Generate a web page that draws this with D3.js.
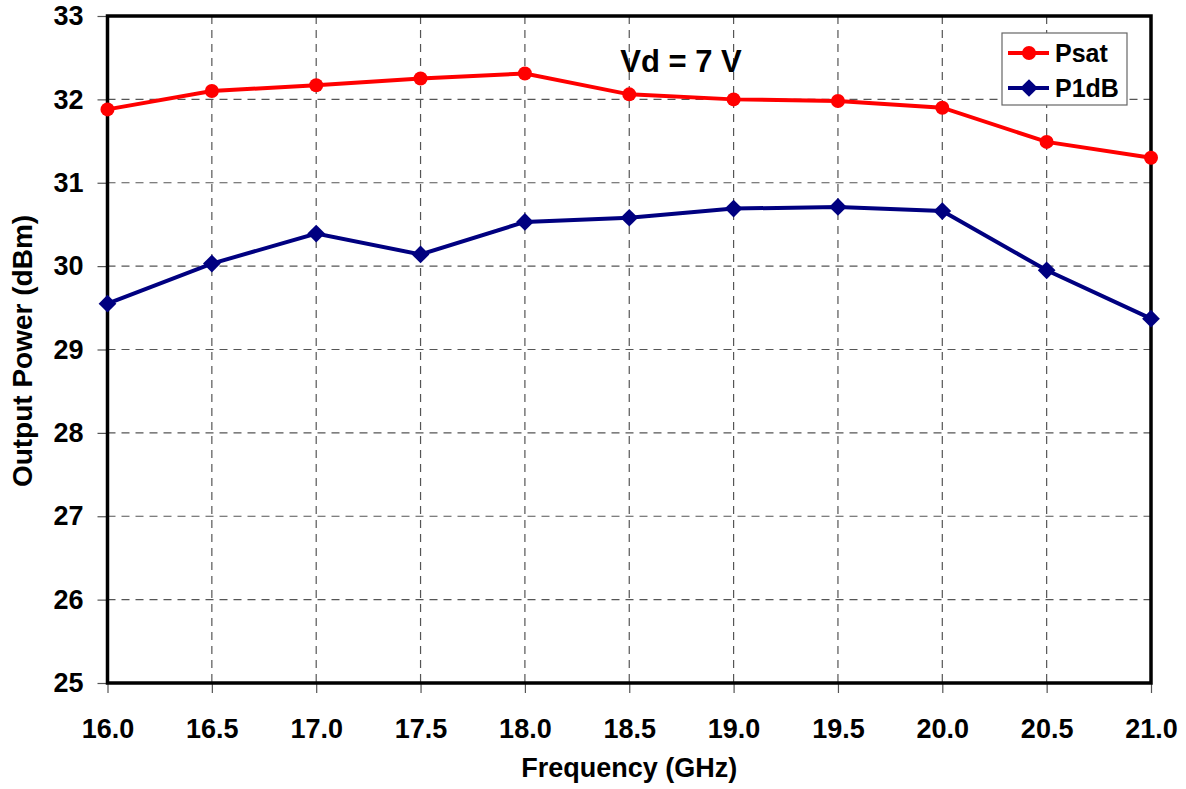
<!DOCTYPE html>
<html><head><meta charset="utf-8">
<script src="https://cdn.jsdelivr.net/npm/d3@7"></script>
<style>body{margin:0;background:#fff}svg{display:block}text{font-family:"Liberation Sans",Arial,sans-serif;font-weight:bold;fill:#000}</style>
</head><body>
<svg id="c" width="1186" height="789"></svg>
<script>
const freq = [16.0,16.5,17.0,17.5,18.0,18.5,19.0,19.5,20.0,20.5,21.0];
const psat = [31.88,32.10,32.17,32.25,32.31,32.06,32.00,31.98,31.90,31.49,31.30];
const p1db = [29.55,30.03,30.39,30.14,30.53,30.58,30.69,30.71,30.66,29.95,29.37];
const xTicks = [16.0,16.5,17.0,17.5,18.0,18.5,19.0,19.5,20.0,20.5,21.0];
const yTicks = [25,26,27,28,29,30,31,32,33];
const seriesNames = ["Psat","P1dB"];
const title = "Vd = 7 V";
const xLabel = "Frequency (GHz)";
const yLabel = "Output Power (dBm)";

const L=107.5,R=1151,T=16,B=683;
const svg=d3.select("#c");
const x=d3.scaleLinear().domain([16,21]).range([L,R]);
const y=d3.scaleLinear().domain([25,33]).range([B,T]);

// grid
const g=svg.append("g");
g.selectAll("line.gx").data(xTicks.slice(1,-1)).join("line")
 .attr("x1",d=>x(d)).attr("x2",d=>x(d)).attr("y1",T).attr("y2",B)
 .attr("stroke","#555").attr("stroke-width",1.2).attr("stroke-dasharray","8,6");
g.selectAll("line.gy").data(yTicks.slice(1,-1)).join("line")
 .attr("x1",L).attr("x2",R).attr("y1",d=>y(d)).attr("y2",d=>y(d))
 .attr("stroke","#555").attr("stroke-width",1.2).attr("stroke-dasharray","8,6");

// axes
const xa=svg.append("g").attr("transform",`translate(0,${B})`)
 .call(d3.axisBottom(x).tickValues(xTicks).tickFormat(d3.format(".1f")).tickSize(10).tickPadding(45));
const ya=svg.append("g").attr("transform",`translate(${L},0)`)
 .call(d3.axisLeft(y).tickValues(yTicks).tickFormat(d3.format("d")).tickSize(10).tickPadding(14));
[xa,ya].forEach(a=>{a.select(".domain").remove();
 a.selectAll(".tick line").attr("stroke","#555").attr("stroke-width",1.2);
 a.selectAll(".tick text").style("font-size","27px").style("font-family","Liberation Sans, Arial").style("font-weight","bold").attr("fill","#000");});
xa.selectAll(".tick text").attr("dy","0");

// frame
svg.append("rect").attr("x",L).attr("y",T).attr("width",R-L).attr("height",B-T)
 .attr("fill","none").attr("stroke","#000").attr("stroke-width",3.5);

// lines
const line=d3.line().x((d,i)=>x(freq[i])).y(d=>y(d));
svg.append("path").datum(psat).attr("d",line).attr("fill","none").attr("stroke","#ff0000").attr("stroke-width",4);
svg.append("path").datum(p1db).attr("d",line).attr("fill","none").attr("stroke","#000080").attr("stroke-width",4);
svg.selectAll("circle.m").data(psat).join("circle")
 .attr("cx",(d,i)=>x(freq[i])).attr("cy",d=>y(d)).attr("r",7).attr("fill","#ff0000");
const dia=d3.symbol().type(d3.symbolDiamond2).size(200);
svg.selectAll("path.d").data(p1db).join("path")
 .attr("transform",(d,i)=>`translate(${x(freq[i])},${y(d)})`).attr("d",dia).attr("fill","#000080");

// title
svg.append("text").attr("x",681).attr("y",72).attr("text-anchor","middle").style("font-size","31px").text(title);
// axis labels
svg.append("text").attr("x",(L+R)/2).attr("y",777).attr("text-anchor","middle").style("font-size","27px").text(xLabel);
svg.append("text").attr("transform",`translate(32,351) rotate(-90)`).attr("text-anchor","middle").style("font-size","28px").text(yLabel);

// legend
const lg=svg.append("g");
lg.append("rect").attr("x",1002).attr("y",33).attr("width",125).attr("height",72).attr("fill","#fff").attr("stroke","#666").attr("stroke-width",1.2);
const colors=["#ff0000","#000080"];
seriesNames.forEach((n,i)=>{
  const yy=53+i*35;
  lg.append("line").attr("x1",1008).attr("x2",1049).attr("y1",yy).attr("y2",yy).attr("stroke",colors[i]).attr("stroke-width",4);
  if(i===0) lg.append("circle").attr("cx",1029).attr("cy",yy).attr("r",7).attr("fill",colors[i]);
  else lg.append("path").attr("transform",`translate(1029,${yy})`).attr("d",dia).attr("fill",colors[i]);
  lg.append("text").attr("x",1055).attr("y",yy+9).style("font-size","25px").text(n);
});
</script>
</body></html>
